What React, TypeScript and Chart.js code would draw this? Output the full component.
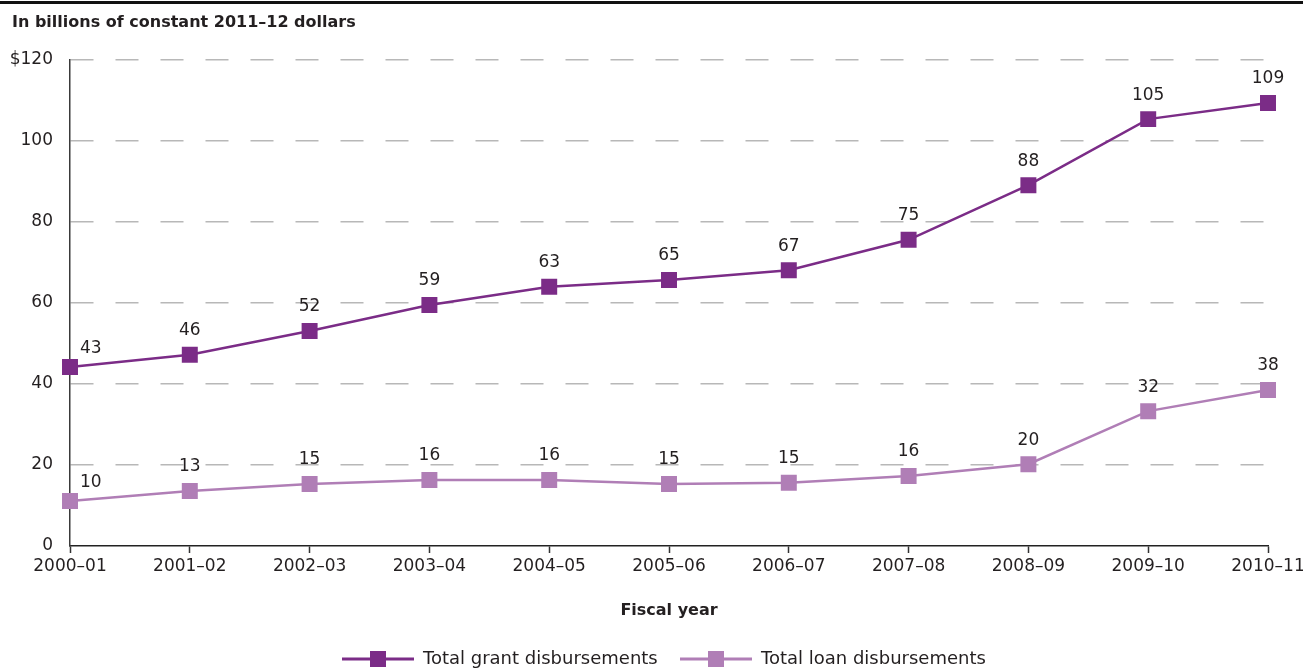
import React, { useEffect, useRef } from "react";
import { Chart, registerables } from "chart.js";

Chart.register(...registerables);

const categories = [
  "2000–01", "2001–02", "2002–03", "2003–04", "2004–05", "2005–06",
  "2006–07", "2007–08", "2008–09", "2009–10", "2010–11",
];
const grantValues = [44.2, 47.2, 53.1, 59.5, 64.0, 65.7, 68.1, 75.6, 89.1, 105.4, 109.4];
const grantLabels = ["43", "46", "52", "59", "63", "65", "67", "75", "88", "105", "109"];
const loanValues = [11.1, 13.6, 15.3, 16.3, 16.3, 15.3, 15.6, 17.3, 20.2, 33.3, 38.5];
const loanLabels = ["10", "13", "15", "16", "16", "15", "15", "16", "20", "32", "38"];
const seriesNames = ["Total grant disbursements", "Total loan disbursements"];
const yTickValues = [0, 20, 40, 60, 80, 100, 120];
const heading = "In billions of constant 2011–12 dollars";
const xTitle = "Fiscal year";

const GRANT = "#7b2c87";
const LOAN = "#b07eb6";
const TEXT = "#231f20";
const FONT = "'DejaVu Sans', sans-serif";

const extrasPlugin = {
  id: "extras",
  afterDraw(chart: any) {
    const ctx = chart.ctx as CanvasRenderingContext2D;
    const area = chart.chartArea;
    ctx.save();
    // top rule
    ctx.fillStyle = "#111";
    ctx.fillRect(0, 1, chart.width, 3);
    // heading
    ctx.fillStyle = TEXT;
    ctx.font = `bold 16px ${FONT}`;
    ctx.textAlign = "left";
    ctx.textBaseline = "middle";
    ctx.fillText(heading, 12, 23);
    // x title
    ctx.font = `bold 16px ${FONT}`;
    ctx.textAlign = "center";
    ctx.fillText(xTitle, (area.left + area.right) / 2, 611);

    // data labels
    ctx.font = `17px ${FONT}`;
    ctx.fillStyle = TEXT;
    const labelSets = [grantLabels, loanLabels];
    chart.data.datasets.forEach((ds: any, di: number) => {
      const meta = chart.getDatasetMeta(di);
      meta.data.forEach((pt: any, i: number) => {
        const txt = labelSets[di][i];
        if (i === 0) {
          ctx.textAlign = "left";
          ctx.fillText(txt, pt.x + 10, pt.y - 18);
        } else {
          ctx.textAlign = "center";
          ctx.fillText(txt, pt.x, pt.y - 24);
        }
      });
    });

    // legend
    const legendY = 659;
    const items = [
      { x: 342, color: GRANT, text: seriesNames[0] },
      { x: 680, color: LOAN, text: seriesNames[1] },
    ];
    items.forEach((it) => {
      ctx.strokeStyle = it.color;
      ctx.lineWidth = 3;
      ctx.beginPath();
      ctx.moveTo(it.x, legendY);
      ctx.lineTo(it.x + 72, legendY);
      ctx.stroke();
      ctx.fillStyle = it.color;
      ctx.fillRect(it.x + 28, legendY - 8, 16, 16);
      ctx.fillStyle = TEXT;
      ctx.font = `18px ${FONT}`;
      ctx.textAlign = "left";
      ctx.textBaseline = "middle";
      ctx.fillText(it.text, it.x + 81, legendY);
    });
    ctx.restore();
  },
};

export default function App() {
  const ref = useRef<HTMLCanvasElement | null>(null);

  useEffect(() => {
    if (!ref.current) return;
    const chart = new Chart(ref.current, {
      type: "line",
      data: {
        labels: categories,
        datasets: [
          {
            label: seriesNames[0],
            data: grantValues,
            borderColor: GRANT,
            backgroundColor: GRANT,
            borderWidth: 2.5,
            pointStyle: "rect",
            pointRadius: 11.3,
            pointBorderWidth: 0,
            pointBackgroundColor: GRANT,
            tension: 0,
          },
          {
            label: seriesNames[1],
            data: loanValues,
            borderColor: LOAN,
            backgroundColor: LOAN,
            borderWidth: 2.5,
            pointStyle: "rect",
            pointRadius: 11.3,
            pointBorderWidth: 0,
            pointBackgroundColor: LOAN,
            tension: 0,
          },
        ],
      },
      options: {
        animation: false,
        responsive: false,
        layout: { padding: { top: 60, right: 35, left: 0, bottom: 0 } },
        plugins: {
          legend: { display: false },
          tooltip: { enabled: false },
        },
        scales: {
          x: {
            type: "category",
            offset: false,
            grid: {
              drawOnChartArea: false,
              drawTicks: true,
              tickLength: 7,
              tickColor: "#333",
              tickWidth: 1.5,
            },
            border: { color: "#222", width: 1.5 },
            ticks: {
              color: TEXT,
              font: { family: FONT, size: 17 },
              padding: 3,
              maxRotation: 0,
              autoSkip: false,
            },
            afterFit: (scale: any) => {
              scale.height = 122;
              scale.paddingLeft = 0;
              scale.paddingRight = 0;
            },
          },
          y: {
            min: 0,
            max: 120,
            afterBuildTicks: (scale: any) => {
              scale.ticks = yTickValues.map((v) => ({ value: v }));
            },
            grid: {
              drawTicks: false,
              color: (c: any) => (c.tick && c.tick.value === 0 ? "rgba(0,0,0,0)" : "#b8b8b8"),
              lineWidth: 1.5,
            },
            border: { color: "#3a3a3a", width: 1.5, dash: [23, 22], dashOffset: 0 },
            ticks: {
              color: TEXT,
              font: { family: FONT, size: 17 },
              padding: 17,
              callback: (v: any) => (Number(v) === 120 ? "$120" : String(v)),
            },
            afterFit: (scale: any) => {
              scale.width = 70;
              scale.paddingTop = 0;
              scale.paddingBottom = 0;
            },
          },
        },
      },
      plugins: [extrasPlugin],
    });
    return () => chart.destroy();
  }, []);

  return (
    <div style={{ position: "absolute", left: 0, top: 0, width: 1303, height: 668, background: "#fff" }}>
      <canvas ref={ref} width={1303} height={668} style={{ width: 1303, height: 668 }} />
    </div>
  );
}
